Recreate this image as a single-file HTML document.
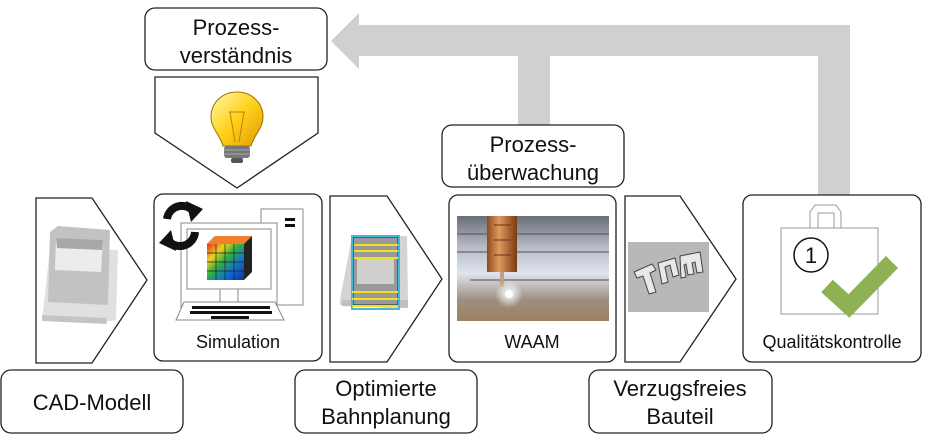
<!DOCTYPE html>
<html><head><meta charset="utf-8"><style>
html,body{margin:0;padding:0;background:#fff;}
svg{display:block;}
text{font-family:"Liberation Sans",sans-serif;fill:#111;}
</style></head><body>
<svg width="936" height="448" viewBox="0 0 936 448" xmlns="http://www.w3.org/2000/svg">
<defs>
<linearGradient id="bulb" x1="0" y1="0" x2="1" y2="1"><stop offset="0" stop-color="#fff9b0"/><stop offset="0.5" stop-color="#ffd21a"/><stop offset="1" stop-color="#e09a00"/></linearGradient>
<linearGradient id="cu" x1="0" y1="0" x2="1" y2="0"><stop offset="0" stop-color="#8a4a1c"/><stop offset="0.4" stop-color="#e09a60"/><stop offset="1" stop-color="#7a3a10"/></linearGradient>
<linearGradient id="metal" x1="0" y1="0" x2="0" y2="1"><stop offset="0" stop-color="#6a6e78"/><stop offset="0.3" stop-color="#b8bcc6"/><stop offset="0.55" stop-color="#dfe4ee"/><stop offset="0.8" stop-color="#9c8f80"/><stop offset="1" stop-color="#a08060"/></linearGradient>
<radialGradient id="glow"><stop offset="0" stop-color="#fff"/><stop offset="1" stop-color="#fff" stop-opacity="0"/></radialGradient>
<linearGradient id="cube" x1="0" y1="0" x2="1" y2="1"><stop offset="0" stop-color="#e03020"/><stop offset="0.25" stop-color="#f0d020"/><stop offset="0.45" stop-color="#30b040"/><stop offset="0.7" stop-color="#1070d0"/><stop offset="1" stop-color="#1030a0"/></linearGradient>
</defs>
<g fill="#d0d0d0">
<rect x="356" y="25" width="494" height="31"/>
<rect x="818" y="25" width="32" height="170"/>
<rect x="518" y="40" width="32" height="86"/>
<polygon points="331,41 359,13 359,69"/>
</g>
<g fill="#fff" stroke="#222" stroke-width="1.3">
<rect x="145" y="8" width="182" height="62" rx="10"/>
<polygon points="155,77 318,77 318,133 237,188 155,133"/>
<polygon points="36,198 92,198 147,280 92,363 36,363"/>
<rect x="154" y="194" width="168" height="167" rx="9"/>
<polygon points="330,196 387,196 442,279 387,362 330,362"/>
<rect x="442" y="125" width="182" height="62" rx="10"/>
<rect x="449" y="195" width="167" height="167" rx="9"/>
<polygon points="625,196 680,196 736,279 680,362 625,362"/>
<rect x="743" y="195" width="178" height="167" rx="9"/>
<rect x="1" y="370" width="182" height="63" rx="10"/>
<rect x="295" y="370" width="182" height="63" rx="10"/>
<rect x="589" y="370" width="183" height="63" rx="10"/>
</g>
<g font-size="22" text-anchor="middle">
<text x="236" y="35">Prozess-</text>
<text x="236" y="63">verständnis</text>
<text x="533" y="152">Prozess-</text>
<text x="533" y="180">überwachung</text>
<text x="92" y="410">CAD-Modell</text>
<text x="386" y="396">Optimierte</text>
<text x="386" y="424">Bahnplanung</text>
<text x="680" y="396">Verzugsfreies</text>
<text x="680" y="424">Bauteil</text>
</g>
<g font-size="18" text-anchor="middle">
<text x="238" y="348">Simulation</text>
<text x="532" y="348">WAAM</text>
<text x="832" y="348">Qualitätskontrolle</text>
</g>
<path d="M237,92 C222,92 211,103 211,117 C211,128 220,135 223,146 L251,146 C254,135 263,128 263,117 C263,103 252,92 237,92Z" fill="url(#bulb)" stroke="#a07000" stroke-width="1"/>
<path d="M230,112 L235,142 M244,112 L239,142 M229,112 L245,112" stroke="#c08000" fill="none" stroke-width="1"/>
<rect x="224" y="146" width="26" height="12" rx="3" fill="#777"/>
<path d="M224,150 H250 M224,154 H250" stroke="#aaa"/>
<rect x="231" y="158" width="12" height="5" rx="2" fill="#555"/>
<!-- CAD model -->
<polygon points="43,312 50,248 118,250 116,320 106,322 43,318" fill="#e0e0e0"/>
<polygon points="42,315 106,318 107,324 42,321" fill="#c4c4c4"/>
<polygon points="50,232 58,226 110,230 108,305 48,302" fill="#c2c2c2"/>
<polygon points="56,238 103,240 101,272 55,270" fill="#ececec"/>
<polygon points="56,238 103,240 102,250 57,248" fill="#a8a8a8"/>
<!-- simulation -->
<g fill="none" stroke="#888" stroke-width="1">
<rect x="261" y="209" width="42" height="96" fill="#fff"/>
<rect x="181" y="223" width="96" height="85" fill="#fff"/>
<rect x="187" y="229" width="84" height="60"/>
<rect x="220" y="289" width="18" height="18"/>
<polygon points="176,320 184,302 275,302 284,320" fill="#fff"/>
</g>
<rect x="285" y="218" width="10" height="3" fill="#111"/><rect x="285" y="224" width="10" height="3" fill="#111"/>
<g fill="#111"><rect x="192" y="306" width="78" height="3"/><rect x="190" y="311" width="82" height="3"/><rect x="211" y="316" width="38" height="3"/></g>
<polygon points="207,244 215,236 252,236 252,272 244,280 207,280" fill="#222"/>
<rect x="207" y="244" width="37" height="36" fill="url(#cube)"/>
<polygon points="207,244 215,236 252,236 244,244" fill="#f08030"/>
<g stroke="#222" stroke-width="0.7"><path d="M216,244V280M225,244V280M234,244V280M207,253H244M207,262H244M207,271H244"/></g>
<g fill="none" stroke="#111" stroke-width="8">
<path d="M167,219 A15,15 0 0 1 194,212"/>
<path d="M195,232 A15,15 0 0 1 168,240"/>
</g>
<polygon points="186,201 203,209 191,222" fill="#111"/><polygon points="176,251 159,243 171,230" fill="#111"/>
<!-- path planning -->
<polygon points="340,300 352,236 407,236 408,302 390,308 340,305" fill="#d4d4d4"/>
<polygon points="342,300 408,300 408,308 342,306" fill="#c0c0c0"/>
<rect x="353" y="237" width="45" height="68" fill="#9a9a9a" stroke="#222"/>
<rect x="357" y="258" width="37" height="26" fill="#cfcfcf"/>
<rect x="352" y="236" width="47" height="73" fill="none" stroke="#40b8e0" stroke-width="2"/>
<g stroke="#f0e020" stroke-width="2"><path d="M354,245H398M354,251H398M354,258H398M352,292H398M352,299H398M352,306H398"/></g>
<!-- WAAM photo -->
<rect x="457" y="216" width="152" height="105" fill="url(#metal)"/>
<g stroke="#555" stroke-width="1.5" opacity="0.7"><path d="M457,234H609M457,252H609M470,280H609"/></g>
<rect x="487" y="216" width="30" height="56" fill="url(#cu)"/>
<path d="M494,225H511M494,240H511M494,255H511" stroke="#6a3010"/>
<rect x="500" y="272" width="4" height="15" fill="#c0a080"/>
<circle cx="509" cy="294" r="14" fill="url(#glow)"/>
<circle cx="509" cy="294" r="4" fill="#fff"/>
<!-- part photo -->
<rect x="628" y="242" width="81" height="70" fill="#b8b8b8"/>
<g fill="#e8e8e8" stroke="#444" stroke-width="1">
<path d="M634,272 L652,264 L656,270 L650,273 L656,292 L649,294 L643,276 L637,278Z"/>
<path d="M658,263 L675,258 L679,275 L673,277 L670,265 L665,267 L668,282 L662,284Z"/>
<path d="M680,256 L700,252 L703,272 L697,273 L695,262 L692,263 L694,274 L688,275 L686,264 L684,265 L686,277 L681,278Z"/>
</g>
<!-- quality -->
<g fill="none" stroke="#999" stroke-width="1">
<rect x="781" y="228" width="97" height="86"/>
<polygon points="810,228 810,212 815,205 836,205 841,212 841,228"/>
<rect x="818" y="213" width="16" height="15"/>
</g>
<circle cx="811" cy="255" r="17" fill="#fff" stroke="#111" stroke-width="1.5"/>
<text x="811" y="263" font-size="22" text-anchor="middle">1</text>
<polyline points="827,286 849,306 892,262" fill="none" stroke="#8db153" stroke-width="17"/>
</svg>
</body></html>
